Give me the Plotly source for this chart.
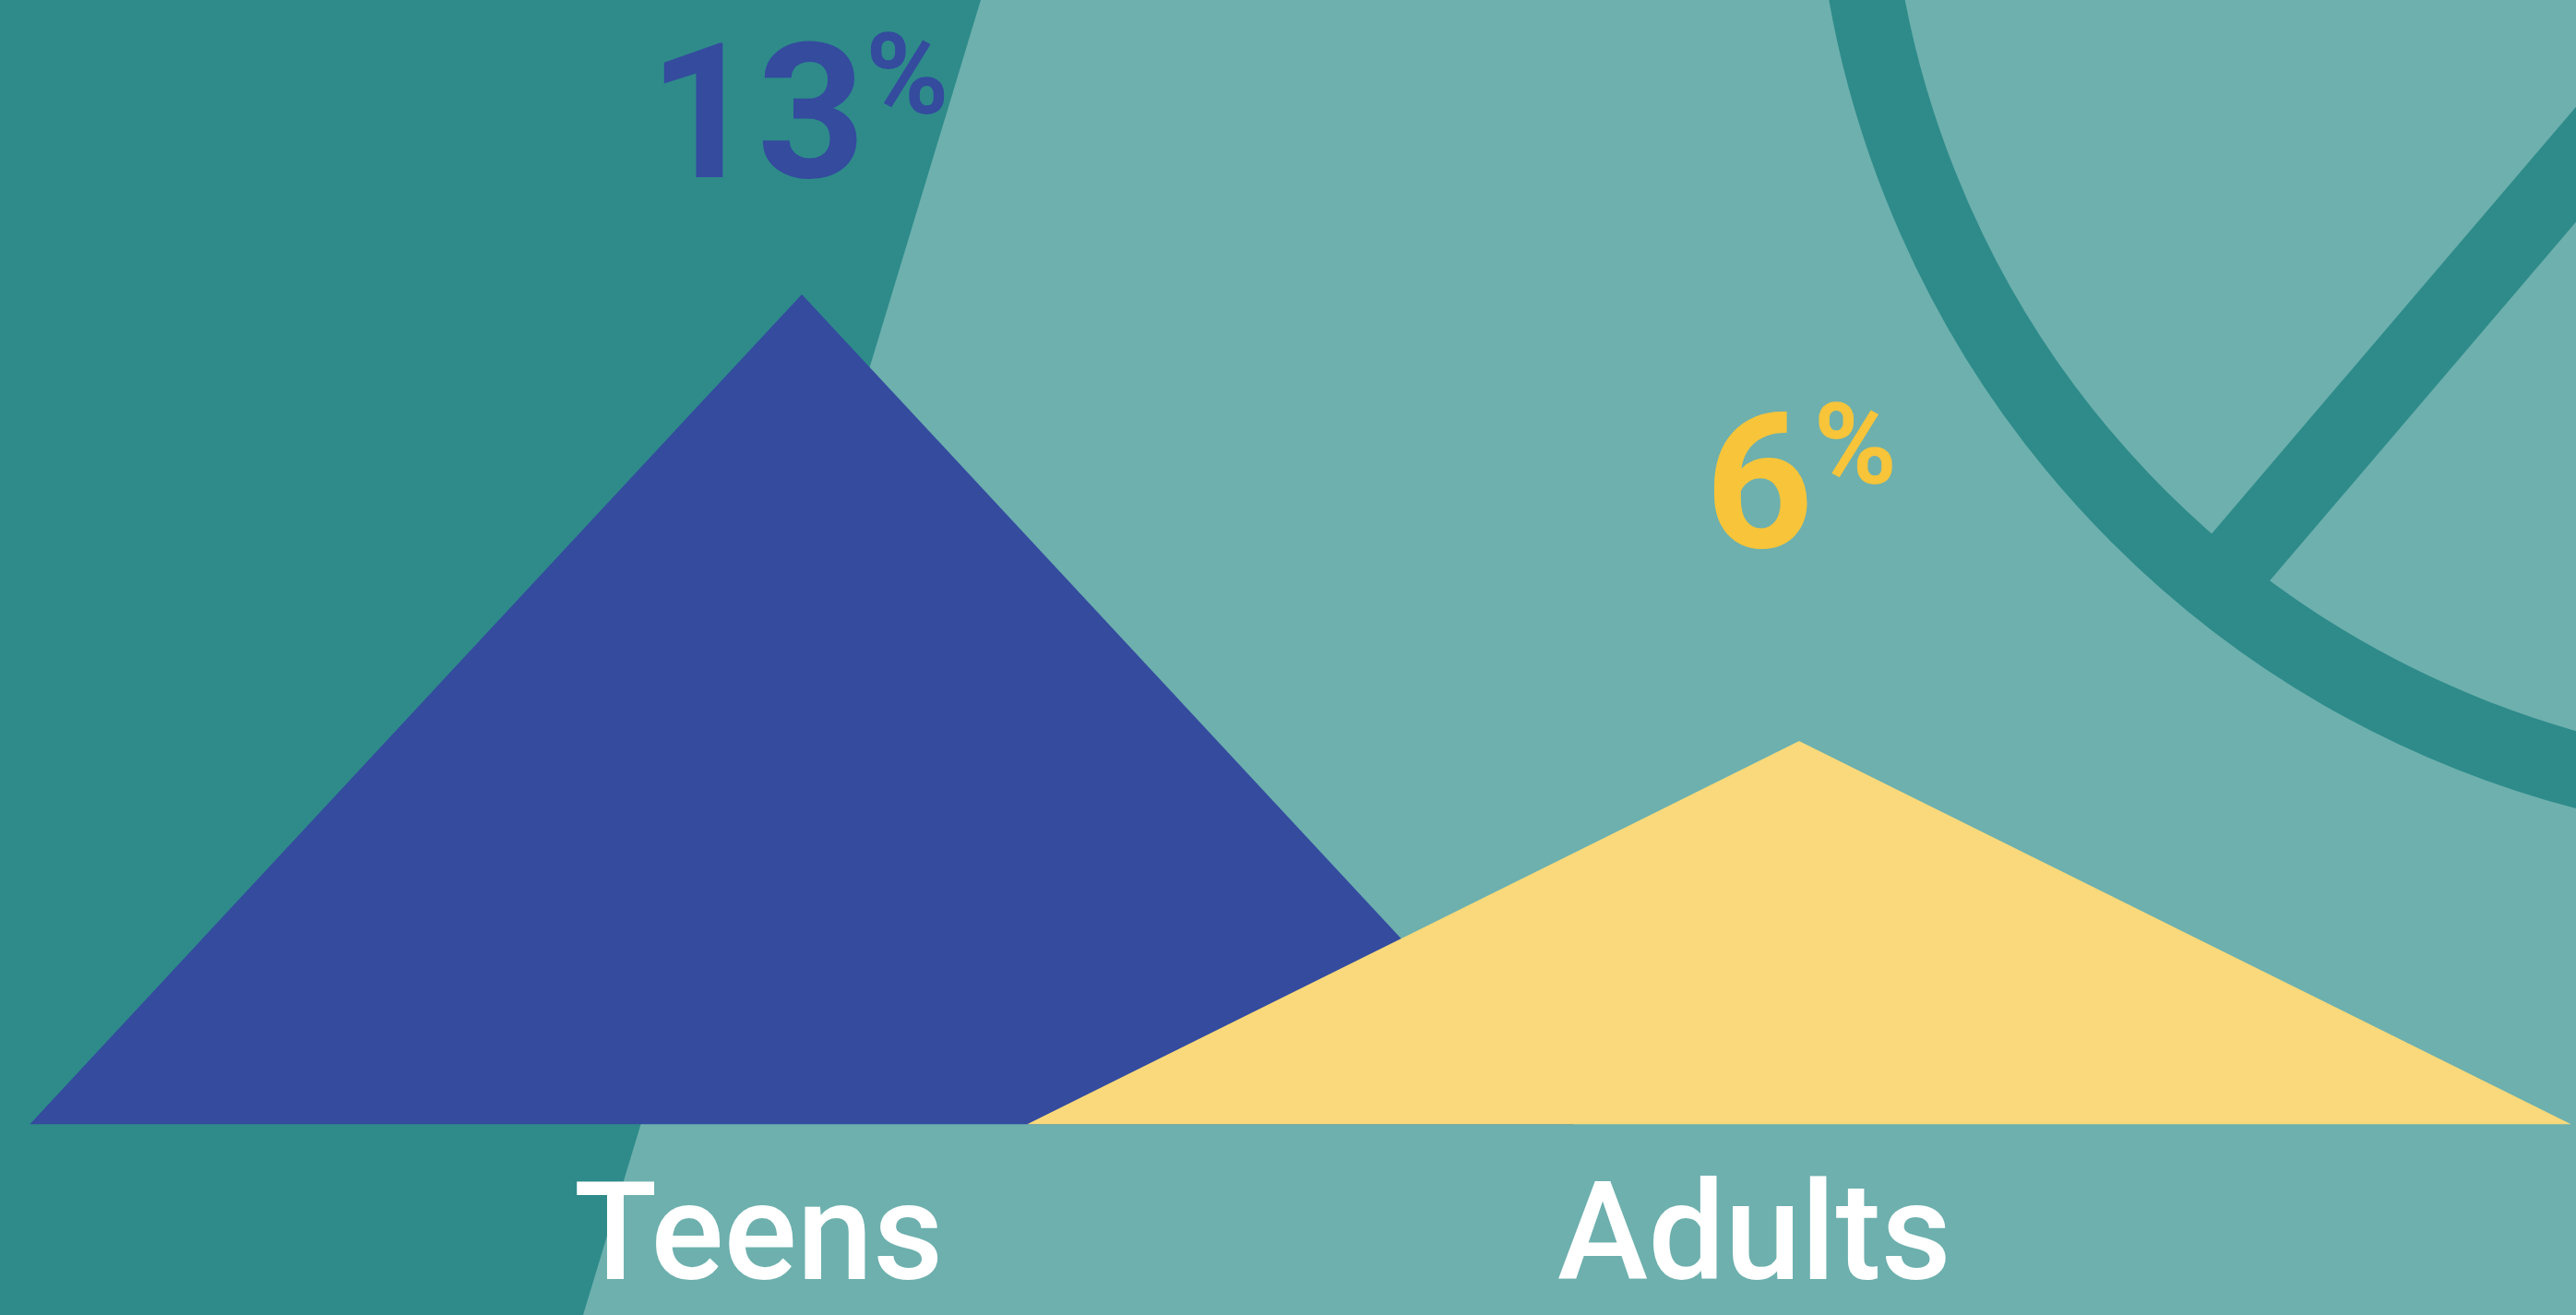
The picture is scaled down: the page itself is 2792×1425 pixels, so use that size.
import plotly.graph_objects as go

# ---- data ----
categories = ["Teens", "Adults"]
values = [13, 6]
value_text = ["13", "6"]
unit_text = "%"

# ---- styling ----
W, H = 2792, 1425
BG_LIGHT = "#6DB0AE"
BG_DARK = "#2E8B8A"
fill_colors = ["#344B9E", "#F9D97B"]
number_colors = ["#344B9E", "#F7C43A"]
HALF_WIDTH = 0.774          # half base width of each triangle (x units)
X_RANGE = [-0.804, 1.779]
Y_RANGE = [-2.99, 17.61]
NUM_FONT = "Roboto, sans-serif"
LABEL_FONT = "Roboto, sans-serif"

# text offsets (pixels) relative to the triangle apex / base centre
num_dx = [-4, 2]
num_dy = [75, 158]
label_dx = [-47, -48]
label_dy = -206


def px(x, y):
    """pixel -> paper coordinates (margins are zero)"""
    return x / W, 1 - y / H


fig = go.Figure()

for i, (cat, v) in enumerate(zip(categories, values)):
    fig.add_trace(go.Scatter(
        x=[i - HALF_WIDTH, i, i + HALF_WIDTH, i - HALF_WIDTH],
        y=[0, v, 0, 0],
        mode="lines",
        fill="toself",
        fillcolor=fill_colors[i],
        line=dict(width=0, color=fill_colors[i]),
        name=cat,
        hoverinfo="skip",
    ))

annotations = []
for i, (cat, v) in enumerate(zip(categories, values)):
    txt = ('<span style="font-size:205px">{}</span>'
           '<sup><span style="font-size:122px">{}</span></sup>').format(value_text[i], unit_text)
    annotations.append(dict(
        x=i, y=v, xref="x", yref="y", text=txt, showarrow=False,
        xanchor="center", yanchor="bottom", xshift=num_dx[i], yshift=num_dy[i],
        font=dict(family=NUM_FONT, size=164, color=number_colors[i], weight="bold"),
    ))
    annotations.append(dict(
        x=i, y=0, xref="x", yref="y", text=cat, showarrow=False,
        xanchor="center", yanchor="bottom", xshift=label_dx[i], yshift=label_dy,
        font=dict(family=LABEL_FONT, size=148, color="#FFFFFF", weight=500),
    ))

# decorative background shapes
p0 = px(0, 0); p1 = px(1063, 0); p2 = px(632, H); p3 = px(0, H)
dark_path = "M {} {} L {} {} L {} {} L {} {} Z".format(p0[0], p0[1], p1[0], p1[1], p2[0], p2[1], p3[0], p3[1])

cx, cy, R, SW = 3070, -193, 1064, 81
cx0, cy0 = px(cx - R, cy + R)
cx1, cy1 = px(cx + R, cy - R)
# spoke: from the ring (lower-left end) out past the upper-right corner
s0 = px(2402, 635)
s1 = px(3142, -232)

shapes = [
    dict(type="path", path=dark_path, xref="paper", yref="paper",
         fillcolor=BG_DARK, line=dict(width=0), layer="below"),
    dict(type="circle", xref="paper", yref="paper", x0=cx0, y0=cy0, x1=cx1, y1=cy1,
         line=dict(color=BG_DARK, width=SW), fillcolor="rgba(0,0,0,0)", layer="below"),
    dict(type="line", xref="paper", yref="paper", x0=s0[0], y0=s0[1], x1=s1[0], y1=s1[1],
         line=dict(color=BG_DARK, width=SW), layer="below"),
]

fig.update_layout(
    width=W, height=H,
    margin=dict(l=0, r=0, t=0, b=0, pad=0),
    paper_bgcolor=BG_LIGHT, plot_bgcolor=BG_LIGHT,
    showlegend=False,
    xaxis=dict(visible=False, range=X_RANGE, fixedrange=True),
    yaxis=dict(visible=False, range=Y_RANGE, fixedrange=True),
    shapes=shapes,
    annotations=annotations,
    hovermode=False,
)

fig.write_html("out.html", config={"displayModeBar": False})
